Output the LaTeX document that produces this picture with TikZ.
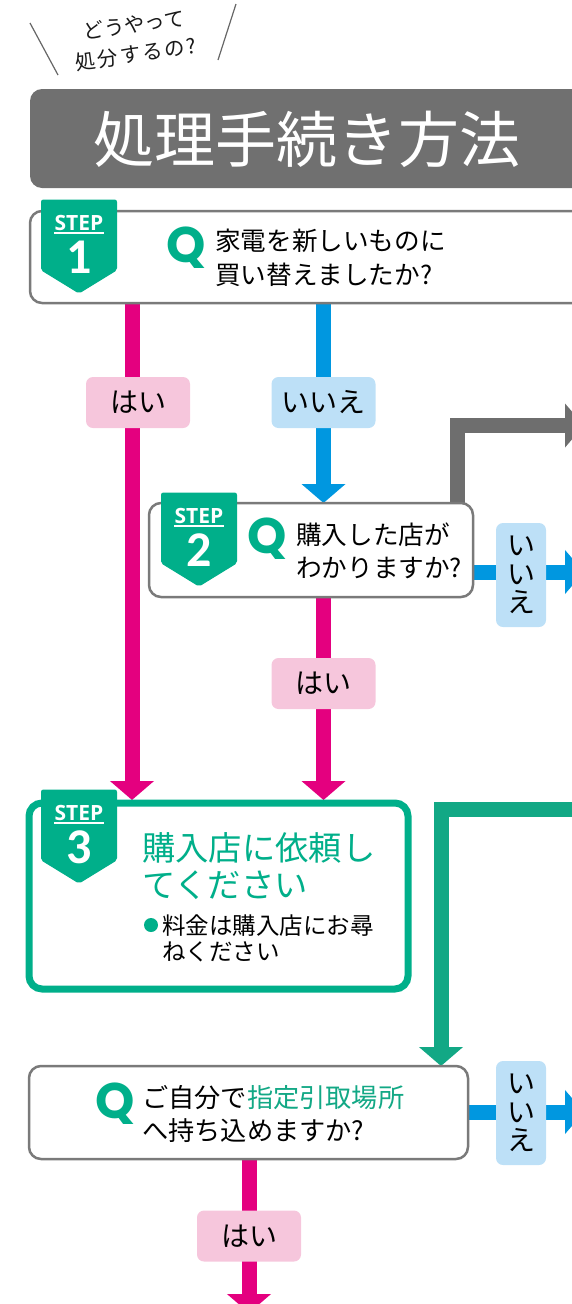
\documentclass[tikz,border=0pt]{standalone}
\usepackage{fontspec}
\setmainfont{Noto Sans CJK JP}
\newfontfamily\qfont{Poppins}
\newfontfamily\stepfont{Open Sans}
\newfontfamily\numfont{Carlito}
\usetikzlibrary{arrows.meta}
\definecolor{hdgray}{HTML}{707070}
\definecolor{boxgray}{HTML}{7A7A7A}
\definecolor{tgreen}{HTML}{00AF8A}
\definecolor{cgreen}{HTML}{12A885}
\definecolor{mpink}{HTML}{E4007F}
\definecolor{lpink}{HTML}{F6C6DC}
\definecolor{mblue}{HTML}{0097E0}
\definecolor{lblue}{HTML}{BDE0F7}
\pgfdeclarelayer{bg}
\pgfsetlayers{bg,main}
\tikzset{
  qbox/.style={draw=boxgray,line width=2.5pt,fill=white,rounded corners=12pt,outer sep=0pt,inner sep=0pt},
  lab/.style={rounded corners=7pt,inner sep=0pt,outer sep=0pt,font=\fontsize{28}{33}\selectfont},
  labyes/.style={lab,fill=lpink,minimum width=104pt,minimum height=51pt},
  labno/.style={lab,fill=lblue,minimum width=104pt,minimum height=51pt},
  labnov/.style={lab,fill=lblue,minimum width=50pt,minimum height=104pt,align=center,font=\fontsize{28}{28.5}\selectfont},
  qmark/.style={text=tgreen,font=\qfont\bfseries\fontsize{50}{50}\selectfont,inner sep=0pt},
  qtext/.style={align=left,anchor=west,inner sep=0pt,font=\fontsize{25.6}{33.5}\selectfont},
  conn/.style={line width=15pt,-{Triangle[width=43pt,length=19pt]}},
  connplain/.style={line width=15pt},
  badgefill/.style={fill=tgreen,draw=tgreen,line width=1pt,rounded corners=2pt},
  steptxt/.style={text=white,inner sep=0pt,font=\stepfont\bfseries\fontsize{21}{21}\selectfont},
  stepnum/.style={text=white,inner sep=0pt,font=\numfont\bfseries\fontsize{50}{50}\selectfont},
  hand/.style={inner sep=0pt,font=\fontsize{20.5}{20.5}\selectfont,rotate=8,text=black!90},
  slash/.style={draw=black!60,line width=1.2pt},
}
\newcommand{\stepbadge}[3]{%
  \path[badgefill] (#1-37.5,#2-93.5+0.5) -- (#1+37.5,#2-93.5+0.5) -- (#1+37.5,#2-23) -- (#1,#2) -- (#1-37.5,#2-23) -- cycle;
  \node[steptxt] (stxt#3) at (#1,#2-70) {STEP};
  \draw[white,line width=1.6pt] (stxt#3.south west) ++(0,2) -- ++(50,0);
  \node[stepnum] (snum#3) at (#1,#2-36) {#3};
}
\begin{document}
\begin{tikzpicture}[x=1pt,y=-1pt]
\useasboundingbox (0,0) rectangle (572,1304);
% top remark
\draw[slash] (30,23) -- (58,75);
\draw[slash] (236,4) -- (218,60);
\node[hand] (h1) at (134,24.5) {どうやって};
\node[hand] (h2) at (136,54) {処\kern2pt 分\kern2pt す\kern2pt る\kern2pt の\kern2pt ?};
% header
\node[fill=hdgray,rounded corners=12pt,minimum width=570pt,minimum height=99pt,inner sep=0pt,outer sep=0pt] (hd) at (315,138.5) {};
\node[text=white,inner sep=0pt,font=\fontsize{61}{61}\selectfont] (hdt) at (306.5,139) {処理手続き方法};
% question 1
\node[qbox,minimum width=570pt,minimum height=92pt] (q1) at (315,257) {};
\node[qmark] (qm1) at (186,248) {Q};
\node[qtext] (qt1) at (215,258) {家電を新しいものに\\買い替えましたか?};
% question 2
\node[qbox,minimum width=324pt,minimum height=94pt] (q2) at (311,550) {};
\node[qmark] (qm2) at (267,539) {Q};
\node[qtext] (qt2) at (296,551) {購入した店が\\わかりますか?};
% step 3
\node[draw=tgreen,line width=7pt,fill=white,rounded corners=13pt,minimum width=379pt,minimum height=186pt,inner sep=0pt,outer sep=0pt] (s3) at (218.5,896) {};
\node[align=left,anchor=west,inner sep=0pt,text=tgreen,font=\fontsize{33.3}{36.5}\selectfont] (s3t) at (142,866) {購入店に依頼し\\てください};
\node[align=left,anchor=west,inner sep=0pt,font=\fontsize{23.5}{26}\selectfont] (s3n) at (162,938) {料金は購入店にお尋\\ねください};
\node[circle,fill=tgreen,minimum size=14pt,inner sep=0pt] (bul) at (151,925) {};
% question 4
\node[qbox,minimum width=439pt,minimum height=93pt] (q4) at (248.5,1112.5) {};
\node[qmark] (qm4) at (115,1104) {Q};
\node[qtext,font=\fontsize{26.2}{33.5}\selectfont] (qt4) at (142,1114) {ご自分で\textcolor{cgreen}{指定引取場所}\\へ持ち込めますか?};
% labels
\node[labyes] (y1) at (138,402.5) {はい};
\node[labno] (n1) at (323.5,402.5) {いいえ};
\node[labyes] (y2) at (323.5,683.5) {はい};
\node[labnov] (n2) at (521,575) {い\\い\\え};
\node[labnov] (n4) at (521,1113) {い\\い\\え};
\node[labyes] (y4) at (249,1236) {はい};
% badges
\stepbadge{79}{293}{1}
\stepbadge{199}{586}{2}
\stepbadge{79}{883}{3}
% free ends and bends
\coordinate (c1) at (132,350);
\coordinate (gr) at (584,425.5);
\coordinate (gv) at (457.5,470);
\coordinate (r2) at (584,572);
\coordinate (gt) at (584,809.5);
\coordinate (tv) at (441,900);
\coordinate (r4) at (584,1112);
\coordinate (e4) at (249,1313);
\begin{pgfonlayer}{bg}
\draw[conn,mpink,shorten >=3pt] (q1.south -| c1) -- (s3.north -| c1);
\draw[conn,mblue] (q1.south -| n1) -- (q2.north -| n1);
\draw[conn,mpink,shorten >=3pt] (q2.south -| y2) -- (s3.north -| y2);
\draw[conn,boxgray!90!black] (q2.north -| gv) |- (gr);
\draw[conn,mblue] (q2.east |- r2) -- (r2);
\draw[connplain,cgreen] (gt) -| (tv);
\draw[conn,cgreen] (tv) -- (q4.north -| tv);
\draw[conn,mblue] (q4.east |- r4) -- (r4);
\draw[conn,mpink] (q4.south -| e4) -- (e4);
\end{pgfonlayer}
\end{tikzpicture}
\end{document}
